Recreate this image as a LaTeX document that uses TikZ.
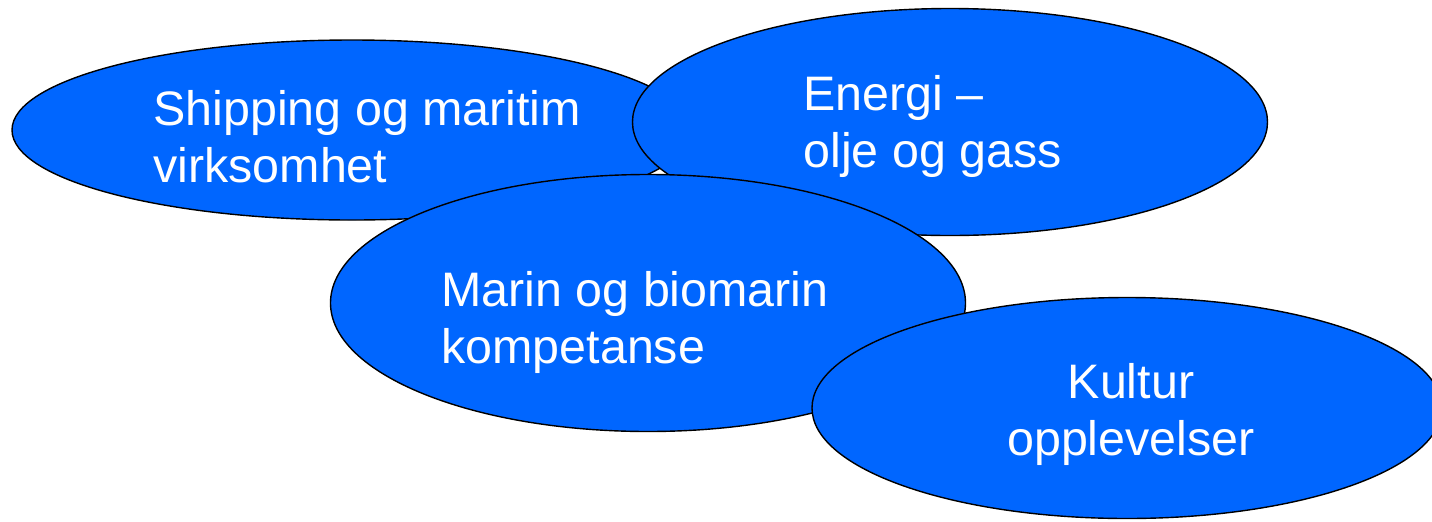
\documentclass[tikz,border=0pt]{standalone}
\usepackage{fontspec}
\setmainfont{Liberation Sans}
\usetikzlibrary{shapes.geometric}
\definecolor{bubbleblue}{RGB}{0,102,255}

\begin{document}
\begin{tikzpicture}[
            x=0.5pt, y=-0.5pt,
            bubble/.style={draw=black, fill=bubbleblue, ellipse, line width=0.7pt, inner sep=0pt},
            label/.style={text=white, inner sep=0pt, font=\fontsize{24.2}{28.5}\selectfont}
        ]
            \useasboundingbox (0,0) rectangle (1432,521);
            \begin{scope}
            \clip (0,0) rectangle (1432,521);

            % Shipping
            \node[bubble, minimum width=340pt, minimum height=90pt] (ship) at (352,130) {};
            \node[label, align=left, anchor=base west] (shiptxt) at (153,182) {Shipping og maritim\\virksomhet};

            % Energi
            \node[bubble, minimum width=317.5pt, minimum height=113.5pt] (energi) at (950,122) {};
            \node[label, align=left, anchor=base west] (energitxt) at (803,167) {Energi --\\olje og gass};

            % Marin
            \node[bubble, minimum width=317.5pt, minimum height=128.5pt] (marin) at (648,303) {};
            \node[label, align=left, anchor=base west] (marintxt) at (441,363) {Marin og biomarin\\kompetanse};

            % Kultur
            \node[bubble, minimum width=315pt, minimum height=110.5pt] (kultur) at (1127,408) {};
            \node[label, align=center, anchor=base] (kulturtxt) at (1131,455) {Kultur\\opplevelser};
            \end{scope}
        \end{tikzpicture}
\end{document}
